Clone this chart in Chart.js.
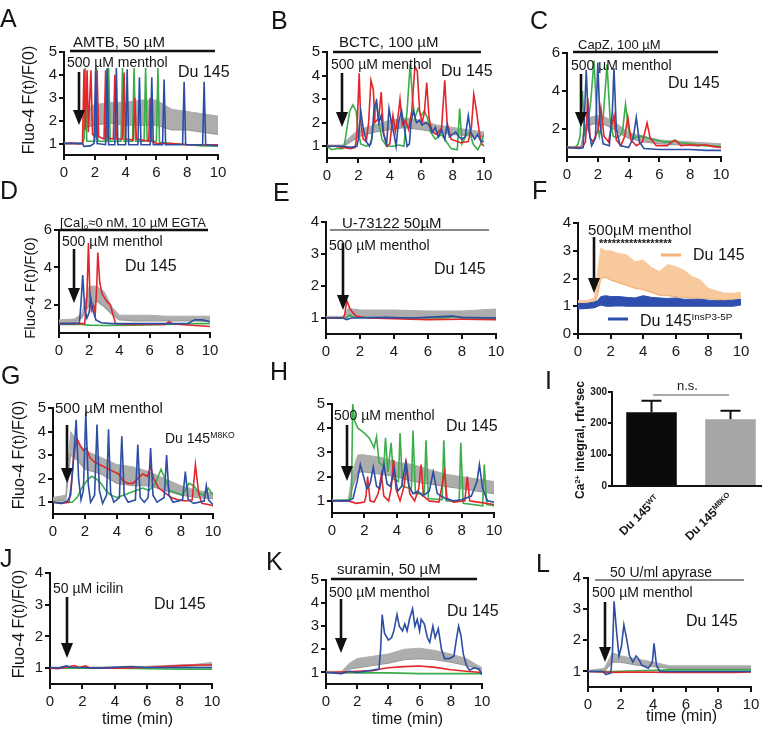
<!DOCTYPE html>
<html>
<head>
<meta charset="utf-8">
<script src="https://cdn.jsdelivr.net/npm/chart.js@4.4.1/dist/chart.umd.min.js"></script>
<style>
html,body{margin:0;padding:0;background:#fff}
#fig{position:relative;width:762px;height:730px;overflow:hidden;font-family:"Liberation Sans",Arial,sans-serif;color:#151515}
#fig canvas{position:absolute;z-index:1}
.t{position:absolute;white-space:nowrap;line-height:1;z-index:3}
.t sup,.yl sup,.xl sup{font-size:62%;vertical-align:0;position:relative;top:-0.6em}
.t sub{font-size:62%;vertical-align:0;position:relative;top:0.3em}
.yl{position:absolute;white-space:nowrap;line-height:1;z-index:3;transform:translate(-50%,-50%) rotate(-90deg)}
.xl{position:absolute;white-space:nowrap;line-height:1;z-index:3;transform-origin:100% 0;transform:rotate(-45deg);font-weight:bold;font-size:12px}
#ann{position:absolute;left:0;top:0;z-index:2}
</style>
</head>
<body>
<div id="fig"><svg id="ann" width="762" height="730"></svg></div>
<script>
const RED='#e3262b', GREEN='#3bad4a', BLUE='#2c4ea3', GREY='#adadad', GREYLINE='#999999';
const X_TICKS=[0,2,4,6,8,10];

// ---- A : AMTB
const aRed=[[0,1],[0.5,1.02],[1.0,0.98],[1.2,1.0],[1.3,4.25],[1.38,1.6],[1.5,4.2],[1.58,1.5],[1.75,4.2],[1.85,1.4],[2.05,1.3],[2.15,4.2],[2.25,1.3],[2.6,1.2],[2.7,4.2],[2.8,1.25],[3.2,1.2],[3.3,4.0],[3.4,1.2],[3.8,1.2],[3.9,4.1],[4.0,1.2],[4.5,1.15],[4.6,3.0],[4.7,1.2],[5.5,1.1],[5.6,3.0],[5.7,1.1],[6,1.0],[7,1.0],[8,0.95],[9,0.95],[10,0.95]];
const aGreen=[[0,1],[1.2,1],[1.3,1.2],[1.38,4.3],[1.48,1.1],[2.0,1.1],[2.1,4.3],[2.2,1.1],[2.8,1.1],[2.9,4.3],[3.0,1.1],[3.7,1.1],[3.8,4.3],[3.9,1.1],[4.45,1.1],[4.55,4.3],[4.65,1.1],[5.2,1.1],[5.3,4.3],[5.4,1.1],[6.0,1.1],[6.1,4.3],[6.2,1.05],[7,1.0],[8,0.95],[9,0.9],[10,0.9]];
const aBlue=[[0,1],[1.2,1.0],[1.3,0.88],[1.7,0.9],[1.95,1.0],[2.05,4.2],[2.15,1.0],[2.7,0.95],[2.8,4.3],[2.9,0.95],[3.3,0.95],[3.4,4.3],[3.5,0.95],[4.0,0.95],[4.1,4.25],[4.2,0.95],[4.8,0.95],[4.9,3.9],[5.0,0.95],[5.6,0.95],[5.7,3.9],[5.8,0.95],[6.4,0.95],[6.5,3.8],[6.6,0.95],[7.7,0.95],[7.8,3.7],[7.9,0.95],[9.0,0.95],[9.1,3.7],[9.2,0.95],[10,0.9]];
const aT=[0,1.2,1.4,2,3,4,5,6,7,8,9,10];
const aMean=[1,1,1.7,1.8,1.9,1.8,1.8,1.8,1.6,1.6,1.5,1.4];
const aHi=[1.05,1.05,2.5,2.7,2.8,2.8,2.9,2.9,2.5,2.4,2.3,2.2];

// ---- B : BCTC
const bRed=[[0,1],[0.5,1.0],[1.0,0.95],[1.5,0.9],[1.8,0.95],[1.9,1.5],[2.05,4.1],[2.15,2.0],[2.3,1.3],[2.5,1.2],[2.65,2.0],[2.8,3.8],[2.95,3.4],[3.05,2.0],[3.3,2.2],[3.45,3.3],[3.6,1.6],[3.8,1.0],[4.0,1.1],[4.2,2.3],[4.35,1.6],[4.55,2.4],[4.65,3.0],[4.8,1.9],[5.0,2.1],[5.2,1.7],[5.4,2.5],[5.6,4.4],[5.75,4.2],[5.9,2.5],[6.05,2.0],[6.2,2.4],[6.35,3.7],[6.5,2.2],[6.7,1.6],[7.0,1.5],[7.3,1.8],[7.5,3.8],[7.65,2.0],[7.9,1.3],[8.5,1.15],[9.0,1.2],[9.2,1.8],[9.35,3.2],[9.5,2.6],[9.7,1.6],[9.85,1.1],[10,1.0]];
const bGreen=[[0,1.0],[0.3,0.85],[0.6,0.9],[1.0,0.9],[1.1,1.0],[1.3,1.9],[1.45,2.5],[1.65,2.75],[1.85,2.5],[2.0,1.6],[2.15,1.1],[2.5,1.0],[2.8,1.1],[3.0,2.0],[3.15,3.0],[3.3,2.0],[3.5,1.3],[3.8,1.0],[4.2,1.0],[4.6,1.05],[4.9,1.0],[5.1,2.5],[5.3,4.5],[5.45,3.0],[5.6,2.2],[5.8,2.6],[6.0,2.3],[6.2,2.5],[6.4,2.2],[6.6,1.6],[6.9,1.3],[7.3,1.5],[7.6,1.2],[7.9,0.9],[8.3,0.85],[8.45,2.6],[8.6,1.1],[8.9,1.5],[9.1,1.6],[9.3,1.1],[9.6,0.85],[9.8,1.1],[10,1.5]];
const bBlue=[[0,1.0],[1.0,1.0],[1.5,0.95],[1.9,1.0],[2.0,1.3],[2.15,2.5],[2.3,1.8],[2.5,1.2],[2.7,1.0],[2.85,1.3],[3.0,2.6],[3.15,2.9],[3.3,2.0],[3.45,2.3],[3.6,1.5],[3.8,1.1],[3.95,2.6],[4.1,2.0],[4.3,1.4],[4.4,1.0],[4.55,2.0],[4.75,2.5],[4.9,1.9],[5.1,1.0],[5.25,1.1],[5.35,2.0],[5.5,2.5],[5.7,2.0],[5.9,2.1],[6.05,1.9],[6.3,2.0],[6.5,1.9],[6.7,1.6],[6.9,1.8],[7.1,1.4],[7.3,1.7],[7.5,1.3],[7.65,1.9],[7.8,1.4],[8.0,1.5],[8.2,1.6],[8.4,1.4],[8.6,1.3],[8.8,1.4],[9.0,2.3],[9.15,1.6],[9.4,1.3],[9.6,1.5],[9.8,1.2],[10,1.2]];
const bT=[0,1,1.3,2,2.5,3,4,5,6,7,8,9,10];
const bMean=[1,1,1.1,1.4,1.5,1.6,1.7,1.8,1.7,1.6,1.5,1.45,1.4];
const bHi=[1.05,1.05,1.3,1.7,1.8,1.9,2.1,2.2,2.1,1.9,1.8,1.7,1.6];

// ---- C : CapZ
const cGreen=[[0,1.0],[0.5,1.0],[0.7,1.15],[0.85,1.6],[1.0,4.0],[1.15,1.8],[1.35,2.2],[1.55,3.5],[1.75,5.6],[1.95,2.5],[2.1,1.6],[2.35,2.6],[2.6,5.4],[2.8,2.5],[3.0,1.6],[3.3,1.5],[3.6,1.8],[3.8,3.3],[4.0,1.9],[4.3,1.5],[4.8,1.6],[5.2,1.5],[5.8,1.4],[6.3,1.3],[6.8,1.3],[7.0,1.4],[7.3,1.25],[8,1.2],[9,1.1],[10,1.05]];
const cBlue=[[0,1.0],[0.8,0.95],[1.05,1.0],[1.15,3.0],[1.25,5.1],[1.4,2.0],[1.6,1.1],[1.85,1.5],[2.0,5.5],[2.15,2.2],[2.35,1.2],[2.75,1.1],[2.95,3.0],[3.05,5.2],[3.2,2.0],[3.45,1.1],[4.0,1.0],[4.3,1.5],[4.5,2.6],[4.7,1.3],[5.0,0.95],[6,0.9],[7,0.9],[8,0.9],[9,0.85],[10,0.85]];
const cRed=[[0,1.0],[1.0,1.0],[1.2,1.3],[1.35,3.6],[1.5,1.5],[1.7,1.3],[2.0,1.9],[2.2,3.1],[2.4,1.6],[2.7,1.3],[2.9,2.2],[3.05,2.7],[3.2,1.4],[3.5,1.1],[3.75,1.6],[3.95,2.6],[4.15,1.4],[4.5,1.1],[4.9,1.3],[5.2,2.3],[5.4,1.5],[5.8,1.1],[6.5,1.1],[6.9,1.35],[7.1,1.35],[7.4,1.1],[8,1.15],[8.5,1.1],[9,1.15],[9.5,1.05],[10,1.0]];
const cT=[0,0.9,1.1,1.5,2,2.5,3,3.5,4,5,6,7,8,9,10];
const cMean=[1,1,1.6,2.2,2.3,2.2,2.0,1.7,1.5,1.3,1.2,1.15,1.1,1.1,1.05];
const cHi=[1.05,1.05,2.0,2.6,2.7,2.6,2.4,2.1,1.8,1.6,1.4,1.35,1.3,1.25,1.2];

// ---- D : Ca-free
const dBlue=[[0,1.0],[1.0,1.0],[1.35,1.05],[1.45,2.0],[1.57,3.6],[1.7,1.8],[1.85,1.3],[2.0,1.6],[2.1,2.4],[2.25,1.7],[2.45,1.2],[2.8,1.05],[3.5,1.0],[5,1.0],[7,1.0],[8.5,1.0],[9,1.2],[9.5,1.2],[10,1.1]];
const dRed=[[0,1.0],[1.0,1.0],[1.7,1.0],[1.85,2.5],[1.95,5.3],[2.05,2.5],[2.15,1.7],[2.3,2.0],[2.4,1.5],[2.5,3.0],[2.57,4.8],[2.7,3.2],[2.85,2.6],[3.0,2.4],[3.15,2.2],[3.4,2.0],[3.6,1.4],[3.75,1.0],[4.5,0.95],[6,0.95],[7,0.95],[7.3,1.1],[7.5,1.0],[8,0.95],[9,0.9],[10,0.85]];
const dGreen=[[0,0.95],[1.5,0.95],[2.0,0.92],[3,0.9],[5,0.92],[7,0.95],[9,1.0],[10,1.0]];
const dT=[0,1,1.5,2,2.5,3,3.5,4,5,6,7,8,9,10];
const dMean=[1,1.05,1.3,2.0,2.2,1.9,1.5,1.2,1.15,1.15,1.15,1.15,1.15,1.1];
const dHi=[1.2,1.25,1.5,3.0,3.0,2.7,1.9,1.45,1.45,1.45,1.4,1.4,1.4,1.4];

// ---- E : U-73122
const eRed=[[0,1.0],[1.0,1.0],[1.1,1.1],[1.22,1.55],[1.4,1.3],[1.6,1.15],[1.8,1.05],[2.5,1.0],[4,0.98],[6,0.95],[8,0.96],[10,0.95]];
const eGreen=[[0,1.0],[1.2,1.0],[1.4,1.1],[1.6,1.02],[4,1.0],[7,1.0],[7.5,1.05],[8,1.0],[10,1.0]];
const eBlue=[[0,1.0],[1.0,1.0],[1.2,0.95],[1.5,1.0],[3.5,1.02],[5,1.0],[7.4,1.06],[8,1.02],[10,1.0]];
const eT=[0,1,1.3,2,4,6,8,10];
const eMean=[1,1,1.05,1.02,1.0,1.0,1.0,1.0];
const eHi=[1.05,1.05,1.3,1.25,1.25,1.22,1.22,1.28];

// ---- F : Du 145 vs Du 145 InsP3-5P
const fT=[0,0.5,1.0,1.2,1.4,1.7,2,2.5,3,3.5,4,4.5,5,5.5,6,6.5,7,7.5,8,8.5,9,9.5,10];
const fOrangeLo=[0.95,1.0,1.05,1.4,2.0,2.05,1.95,1.85,1.75,1.65,1.6,1.5,1.4,1.38,1.35,1.32,1.3,1.28,1.28,1.25,1.23,1.2,1.2];
const fOrangeHi=[1.2,1.2,1.3,2.2,3.1,3.0,3.0,2.9,2.85,2.6,2.67,2.4,2.25,2.5,2.43,2.3,2.07,1.95,1.65,1.55,1.47,1.47,1.5];
const fBlueLo=[0.9,0.92,0.95,1.0,1.05,1.0,1.0,1.02,1.0,1.0,1.0,1.0,1.0,1.0,1.0,1.0,1.0,1.0,1.0,1.0,1.0,1.0,1.05];
const fBlueHi=[1.1,1.1,1.15,1.2,1.35,1.38,1.35,1.35,1.32,1.3,1.38,1.32,1.3,1.28,1.3,1.25,1.25,1.25,1.22,1.2,1.2,1.22,1.25];

// ---- G : Du 145 M8KO
const gBlue=[[0,1.0],[0.5,0.95],[0.9,1.05],[1.1,1.3],[1.3,3.0],[1.45,4.5],[1.6,2.0],[1.75,1.1],[1.9,1.5],[2.05,4.8],[2.2,1.8],[2.35,1.0],[2.6,1.3],[2.75,4.3],[2.9,1.5],[3.1,0.95],[3.35,1.3],[3.47,4.1],[3.6,1.4],[3.8,1.0],[4.15,1.2],[4.3,3.8],[4.45,1.3],[4.7,1.0],[5.15,1.1],[5.3,3.45],[5.45,1.2],[5.7,1.0],[5.95,1.2],[6.1,3.3],[6.25,1.3],[6.5,1.0],[6.95,1.2],[7.1,3.0],[7.25,1.3],[7.5,1.0],[8.1,1.1],[8.27,2.3],[8.45,1.1],[8.8,0.95],[9.45,1.05],[9.58,1.7],[9.72,1.1],[10,0.9]];
const gRed=[[0,1.0],[0.5,0.95],[1.0,1.0],[1.15,1.8],[1.3,3.0],[1.5,3.7],[1.7,3.4],[1.9,3.2],[2.1,3.3],[2.3,2.9],[2.6,2.7],[2.9,2.6],[3.2,2.5],[3.5,2.4],[3.8,2.3],[4.1,2.2],[4.4,1.9],[4.7,1.8],[5.0,1.8],[5.3,2.0],[5.6,2.2],[5.9,2.1],[6.1,2.5],[6.3,2.0],[6.6,1.6],[7.0,1.4],[7.4,1.2],[7.8,1.1],[8.3,1.05],[8.7,1.1],[8.9,2.6],[9.1,1.4],[9.3,0.95],[9.7,0.9],[10,0.85]];
const gGreen=[[0,1.0],[0.8,1.0],[1.2,1.0],[1.5,1.2],[1.8,1.6],[2.1,1.9],[2.4,2.1],[2.7,2.0],[3.0,1.8],[3.3,1.5],[3.6,1.3],[4.0,1.2],[4.4,1.3],[4.8,1.4],[5.2,1.5],[5.6,1.6],[6.0,1.5],[6.4,1.8],[6.75,2.4],[7.0,2.0],[7.3,1.5],[7.7,1.4],[8.1,1.3],[8.5,1.8],[8.8,1.7],[9.1,1.4],[9.4,1.3],[9.7,1.6],[10,1.3]];
const gT=[0,0.8,1.1,1.5,2,3,4,5,6,7,8,9,10];
const gMean=[1.05,1.1,3.0,2.8,2.4,2.2,1.8,1.7,1.7,1.5,1.3,1.2,1.15];
const gHi=[1.2,1.3,4.0,3.6,3.2,2.9,2.6,2.5,2.3,2.0,1.7,1.5,1.4];

// ---- H : Du 145
const hGreen=[[0,1],[1.1,1.05],[1.2,1.2],[1.28,5.0],[1.4,4.3],[1.6,4.0],[1.8,3.9],[2.0,3.8],[2.3,3.6],[2.6,3.2],[2.75,3.65],[2.9,2.6],[3.2,2.4],[3.3,3.6],[3.45,2.2],[3.65,3.4],[3.8,1.9],[4.1,1.8],[4.2,3.8],[4.35,1.6],[4.9,1.5],[5.0,3.9],[5.15,1.3],[5.7,1.3],[5.8,3.5],[5.95,1.1],[6.8,1.05],[6.9,3.5],[7.05,1.0],[7.85,1.0],[7.95,3.4],[8.1,0.9],[9.3,0.8],[9.4,2.5],[9.55,0.85],[10,0.8]];
const hRed=[[0,1.0],[1.0,1.0],[1.5,0.9],[2.0,0.95],[2.1,1.2],[2.2,2.0],[2.35,1.0],[2.6,0.95],[2.85,1.3],[3.05,2.1],[3.2,1.2],[3.5,1.0],[3.65,1.5],[3.8,2.7],[3.95,1.5],[4.2,1.0],[4.45,1.6],[4.6,2.5],[4.8,1.3],[5.1,1.0],[5.35,1.5],[5.5,2.5],[5.65,1.2],[6.0,1.0],[6.6,0.95],[6.95,2.2],[7.1,1.1],[7.5,0.95],[8.2,1.0],[8.35,2.0],[8.5,1.0],[9.0,0.95],[9.5,0.9],[10,0.85]];
const hBlue=[[0,1.0],[1.0,1.0],[1.3,1.1],[1.55,1.8],[1.75,2.5],[1.95,2.0],[2.15,1.5],[2.35,1.7],[2.55,2.4],[2.75,1.6],[2.95,1.5],[3.2,2.5],[3.4,1.7],[3.6,1.6],[3.85,2.3],[4.05,1.4],[4.3,1.6],[4.55,2.6],[4.75,1.6],[5.0,1.3],[5.3,1.4],[5.6,1.2],[6.0,1.4],[6.25,2.2],[6.5,1.3],[7.0,1.1],[7.5,1.0],[8.0,1.05],[8.6,1.2],[8.95,1.8],[9.1,2.5],[9.3,1.5],[9.6,1.0],[10,0.95]];
const hT=[0,1,1.3,1.6,2,3,4,5,6,7,8,9,10];
const hMean=[1,1,1.6,2.2,2.2,2.1,2.0,1.8,1.7,1.6,1.5,1.4,1.3];
const hHi=[1.05,1.05,2.3,2.9,2.9,2.8,2.6,2.5,2.3,2.1,2.0,1.9,1.8];

// ---- I : Ca2+ integral
const iCats=['Du 145 WT','Du 145 M8KO'];
const iMeans=[235,213];
const iErr=[37,27];

// ---- J : icilin
const jRed=[[0,1.0],[0.5,0.98],[1.0,1.03],[1.5,1.08],[1.8,1.02],[2.2,1.07],[2.5,1.0],[4,1.0],[6,1.02],[8,1.08],[9,1.1],[10,1.1]];
const jGreen=[[0,1.0],[2,1.0],[4,1.0],[6,0.98],[8,0.97],[10,0.97]];
const jBlue=[[0,1.02],[0.5,1.0],[1.0,1.07],[1.3,1.03],[2,1.02],[3,1.0],[5,1.05],[6,1.02],[8,1.02],[10,1.02]];
const jT=[0,2,4,6,8,9,10];
const jMean=[1,1,1,1.02,1.05,1.07,1.08];
const jHi=[1.03,1.03,1.04,1.06,1.1,1.12,1.18];

// ---- K : suramin
const kBlue=[[0,1.0],[1.0,0.95],[1.5,1.05],[2.0,1.0],[2.5,1.05],[3.0,1.1],[3.4,1.15],[3.5,2.0],[3.6,3.5],[3.75,2.7],[4.0,2.4],[4.2,2.5],[4.35,2.8],[4.55,3.5],[4.7,3.0],[4.9,2.8],[5.05,3.1],[5.2,2.8],[5.35,3.3],[5.55,3.75],[5.7,3.0],[5.85,3.3],[6.0,2.8],[6.1,3.3],[6.3,3.1],[6.5,2.5],[6.65,2.3],[6.85,3.0],[7.0,2.5],[7.2,2.9],[7.4,2.0],[7.6,1.6],[7.9,1.6],[8.2,1.7],[8.35,2.4],[8.5,3.0],[8.65,2.6],[8.8,1.8],[9.0,1.3],[9.2,1.1],[9.5,1.2],[9.8,1.15],[10,0.9]];
const kRed=[[0,1.0],[1,1.02],[2,1.05],[3,1.08],[3.5,1.15],[4,1.2],[5,1.25],[6,1.28],[7,1.22],[8,1.12],[9,1.05],[10,1.0]];
const kGreen=[[0,1.0],[2,0.98],[4,0.98],[6,0.95],[8,0.95],[10,0.95]];
const kT=[0,1,1.5,2,3,4,5,6,7,8,9,9.5,10];
const kMean=[1,1,1.15,1.2,1.3,1.4,1.55,1.6,1.55,1.45,1.3,1.2,1.05];
const kHi=[1.05,1.05,1.4,1.6,1.7,1.8,2.0,2.05,1.95,1.8,1.6,1.4,1.2];

// ---- L : apyrase
const lBlue=[[0,1.0],[0.9,1.0],[1.1,0.9],[1.4,0.95],[1.5,1.6],[1.6,3.25],[1.75,2.3],[1.9,1.5],[2.05,1.8],[2.2,2.5],[2.35,2.1],[2.55,1.5],[2.75,1.3],[2.95,1.5],[3.1,1.4],[3.3,1.2],[3.7,1.1],[3.95,1.3],[4.05,1.9],[4.2,1.2],[4.4,1.0],[6,1.0],[8,1.0],[10,1.0]];
const lRed=[[0,1.0],[1.5,0.97],[3,0.98],[5,0.97],[7,0.97],[9,0.97],[10,0.98]];
const lGreen=[[0,1.0],[1.5,1.0],[3,1.02],[5,1.05],[7,1.05],[10,1.05]];
const lT=[0,1,1.5,2,3,4,5,6,8,10];
const lMean=[1,1,1.3,1.3,1.2,1.15,1.1,1.1,1.1,1.1];
const lHi=[1.03,1.1,1.6,1.5,1.4,1.3,1.18,1.18,1.18,1.18];

const fig=document.getElementById('fig');
const svg=document.getElementById('ann');

function trace(pts,color,order){
  return {data:pts.map(p=>({x:p[0],y:p[1]})),borderColor:color,borderWidth:1.6,pointRadius:0,tension:0,fill:false,order};
}
function band(t,lo,hi,line,fillc,order){
  return [
    {data:t.map((x,i)=>({x,y:lo[i]})),borderColor:line,borderWidth:1.2,pointRadius:0,fill:false,order},
    {data:t.map((x,i)=>({x,y:hi[i]})),borderColor:fillc,borderWidth:1,pointRadius:0,fill:'-1',backgroundColor:fillc,order}
  ];
}
function grey(t,m,h){return band(t,m,h,GREYLINE,GREY,9);}
function rgb(r,g,b){return [trace(r,RED,2),trace(g,GREEN,3),trace(b,BLUE,1)];}

function axisStyle(size,bold){
  return {
    ticks:{autoSkip:false,maxRotation:0,color:'#1a1a1a',font:{family:'Liberation Sans',size,weight:bold?'bold':'normal'}},
    grid:{display:true,drawOnChartArea:false,drawTicks:true,tickLength:5,color:'#111',lineWidth:2},
    border:{display:true,color:'#111',width:2}
  };
}

function lineChart(box,yMin,yMax,yTicks,datasets){
  const padL=40,padT=12,padR=14,padB=30;
  const c=document.createElement('canvas');
  const w=box.x1-box.x0+padL+padR, h=box.yB-box.yT+padT+padB;
  c.width=w;c.height=h;
  c.style.left=(box.x0-padL)+'px';c.style.top=(box.yT-padT)+'px';
  c.style.width=w+'px';c.style.height=h+'px';
  fig.appendChild(c);
  const xs=axisStyle(15), ys=axisStyle(15);
  xs.ticks.padding=4; ys.ticks.padding=2;
  new Chart(c,{type:'line',data:{datasets},options:{
    responsive:false,animation:false,events:[],devicePixelRatio:1,
    layout:{padding:{left:0,top:padT,right:padR,bottom:0}},
    plugins:{legend:{display:false},tooltip:{enabled:false}},
    scales:{
      x:Object.assign({type:'linear',min:0,max:10,afterFit:s=>{s.height=padB;},
        afterBuildTicks:s=>{s.ticks=X_TICKS.map(v=>({value:v}));}},xs),
      y:Object.assign({type:'linear',min:yMin,max:yMax,afterFit:s=>{s.width=padL;},
        afterBuildTicks:s=>{s.ticks=yTicks.map(v=>({value:v}));}},ys)
    }
  }});
}

// panels
lineChart({x0:64,x1:218,yT:52,yB:155},0.5,5,[1,2,3,4,5],[...rgb(aRed,aGreen,aBlue),...grey(aT,aMean,aHi)]);
lineChart({x0:327,x1:484,yT:52,yB:158},0.5,5,[1,2,3,4,5],[...rgb(bRed,bGreen,bBlue),...grey(bT,bMean,bHi)]);
lineChart({x0:567,x1:721,yT:53,yB:157},0.5,6,[2,4,6],[...rgb(cRed,cGreen,cBlue),...grey(cT,cMean,cHi)]);
lineChart({x0:59,x1:210,yT:230,yB:333},0.5,6,[2,4,6],[...rgb(dRed,dGreen,dBlue),...grey(dT,dMean,dHi)]);
lineChart({x0:326,x1:496,yT:222,yB:334},0.5,4,[1,2,3,4],[...rgb(eRed,eGreen,eBlue),...grey(eT,eMean,eHi)]);
lineChart({x0:578,x1:741,yT:223,yB:334},0,4,[0,1,2,3,4],[...band(fT,fOrangeLo,fOrangeHi,'#f4b27a','#f8c99c',5),...band(fT,fBlueLo,fBlueHi,'#2f4fae','#2f4fae',4)]);
lineChart({x0:53,x1:213,yT:408,yB:514},0.5,5,[1,2,3,4,5],[...rgb(gRed,gGreen,gBlue),...grey(gT,gMean,gHi)]);
lineChart({x0:332,x1:494,yT:404,yB:513},0.5,5,[1,2,3,4,5],[...rgb(hRed,hGreen,hBlue),...grey(hT,hMean,hHi)]);
lineChart({x0:50,x1:212,yT:573,yB:684},0.5,4,[1,2,3,4],[...rgb(jRed,jGreen,jBlue),...grey(jT,jMean,jHi)]);
lineChart({x0:326,x1:482,yT:580,yB:684},0.5,5,[1,2,3,4,5],[...rgb(kRed,kGreen,kBlue),...grey(kT,kMean,kHi)]);
lineChart({x0:588,x1:751,yT:578,yB:687},0.5,4,[1,2,3,4],[...rgb(lRed,lGreen,lBlue),...grey(lT,lMean,lHi)]);

// bar panel I
(function(){
  const padL=40,padT=12,box={x0:612,x1:768,yT:392,yB:489};
  const c=document.createElement('canvas');
  const w=box.x1-box.x0+padL+2,h=box.yB-box.yT+padT+4;
  c.width=w;c.height=h;c.style.left=(box.x0-padL)+'px';c.style.top=(box.yT-padT)+'px';
  c.style.width=w+'px';c.style.height=h+'px';
  fig.appendChild(c);
  const errBars={id:'errBars',afterDatasetsDraw(ch){
    const ctx=ch.ctx,ys=ch.scales.y,meta=ch.getDatasetMeta(0);
    ctx.save();ctx.strokeStyle='#111';ctx.lineWidth=2;
    meta.data.forEach((el,i)=>{
      const yt=ys.getPixelForValue(iMeans[i]+iErr[i]);
      ctx.beginPath();ctx.moveTo(el.x,el.y);ctx.lineTo(el.x,yt);
      ctx.moveTo(el.x-10,yt);ctx.lineTo(el.x+10,yt);ctx.stroke();
    });
    ctx.restore();
  }};
  const xs=axisStyle(10,true), ys=axisStyle(10,true);
  xs.ticks.display=false; xs.grid.display=false; ys.ticks.padding=1; ys.grid.tickLength=4;
  new Chart(c,{type:'bar',data:{labels:iCats,datasets:[{data:iMeans,backgroundColor:['#0b0b0b','#a6a6a6'],borderWidth:0,barPercentage:0.64,categoryPercentage:1}]},
    options:{responsive:false,animation:false,events:[],devicePixelRatio:1,
      layout:{padding:{left:0,top:padT,right:0,bottom:0}},
      plugins:{legend:{display:false},tooltip:{enabled:false}},
      scales:{
        x:Object.assign({afterFit:s=>{s.height=4;}},xs),
        y:Object.assign({min:0,max:300,afterFit:s=>{s.width=padL;},afterBuildTicks:s=>{s.ticks=[0,100,200,300].map(v=>({value:v}));}},ys)
      }},plugins:[errBars]});
})();

// text
function T(x,capTop,size,html,bold){
  const d=document.createElement('div');
  d.className='t';
  d.style.left=x+'px';d.style.top=(capTop-Math.round(size*0.14))+'px';d.style.fontSize=size+'px';
  if(bold)d.style.fontWeight='bold';
  d.innerHTML=html;fig.appendChild(d);return d;
}
function YL(cx,cy,size,html,bold){
  const d=document.createElement('div');
  d.className='yl';d.style.left=cx+'px';d.style.top=cy+'px';d.style.fontSize=size+'px';
  if(bold)d.style.fontWeight='bold';
  d.innerHTML=html;fig.appendChild(d);
}
const letters=[['A',0,10],['B',271,12],['C',530,12],['D',0,182],['E',273,184],['F',532,182],['G',1,367],['H',270,363],['I',545,372],['J',0,550],['K',266,553],['L',536,555]];
letters.forEach(l=>T(l[1],l[2],25,l[0]));

const M='500 µM menthol';
T(73,36,15,'AMTB, 50 µM'); T(67,57,14,M); T(178,66,16,'Du 145');
T(339,36,15,'BCTC, 100 µM'); T(331,59,14,M); T(441,65,16,'Du 145');
T(578,40,13,'CapZ, 100 µM'); T(571,60,14,M); T(668,77,16,'Du 145');
T(60,218,13,'[Ca]<sub>o</sub>≈0 nM, 10 µM EGTA'); T(62,236,14,M); T(125,260,16,'Du 145');
T(342,217,15,'U-73122 50µM'); T(329,240,14,M); T(434,263,16,'Du 145');
T(588,224,15,'500µM menthol'); T(599,240,11,'*****************',true); T(693,249,16,'Du 145'); T(640,315,16,'Du 145<sup>InsP3-5P</sup>');
T(55,402,15,M); T(165,433,14,'Du 145<sup>M8KO</sup>');
T(334,410,14,M); T(446,420,16,'Du 145');
T(677,381,13,'n.s.');
T(53,583,14,'50 µM icilin'); T(154,598,16,'Du 145'); T(102,713,16,'time (min)');
T(337,563,15,'suramin, 50 µM'); T(329,587,14,M); T(447,605,16,'Du 145'); T(372,713,16,'time (min)');
T(610,567,14,'50 U/ml apyrase'); T(592,587,14,M); T(686,615,16,'Du 145'); T(646,710,16,'time (min)');

const FL='Fluo-4 F(t)/F(0)';
YL(29,100,16,FL); YL(29,288,15,FL); YL(19,455,16,FL); YL(19,624,16,FL);
YL(580,440,12,'Ca<sup>2+</sup> integral, rfu*sec',true);
[['Du 145<sup>WT</sup>',653,493],['Du 145<sup>M8KO</sup>',726,491]].forEach(a=>{
  const d=document.createElement('div');d.className='xl';d.style.right=(762-a[1])+'px';d.style.top=a[2]+'px';
  d.innerHTML=a[0];fig.appendChild(d);
});

// treatment bars, arrows, legend keys
const NS='http://www.w3.org/2000/svg';
function line(x1,y1,x2,y2,w,col){
  const l=document.createElementNS(NS,'line');
  l.setAttribute('x1',x1);l.setAttribute('y1',y1);l.setAttribute('x2',x2);l.setAttribute('y2',y2);
  l.setAttribute('stroke',col||'#111');l.setAttribute('stroke-width',w);svg.appendChild(l);
}
function arrow(x,y1,y2){
  line(x,y1,x,y2-12,2.6);
  const p=document.createElementNS(NS,'polygon');
  p.setAttribute('points',(x-6)+','+(y2-15)+' '+(x+6)+','+(y2-15)+' '+x+','+y2);
  p.setAttribute('fill','#111');svg.appendChild(p);
}
[[70,215,51,2.5],[333,481,52,2.5],[573,718,52,2.5],[60,208,230,2.5],[330,489,230,1],[331,477,579,2.5],[595,744,580,1]]
  .forEach(b=>line(b[0],b[2],b[1],b[2],b[3]));
[[79,72,125],[342,73,127],[581,74,127],[74,249,303],[343,243,310],[594,237,293],[67,425,483],[347,425,481],[67,597,658],[341,599,653],[605,602,662]]
  .forEach(a=>arrow(a[0],a[1],a[2]));
line(661,255,681,255,3,'#f4b27a');
line(608,319,628,319,3,'#2f4fae');
line(653,395,729,395,1.2,'#555');
</script>
</body>
</html>
